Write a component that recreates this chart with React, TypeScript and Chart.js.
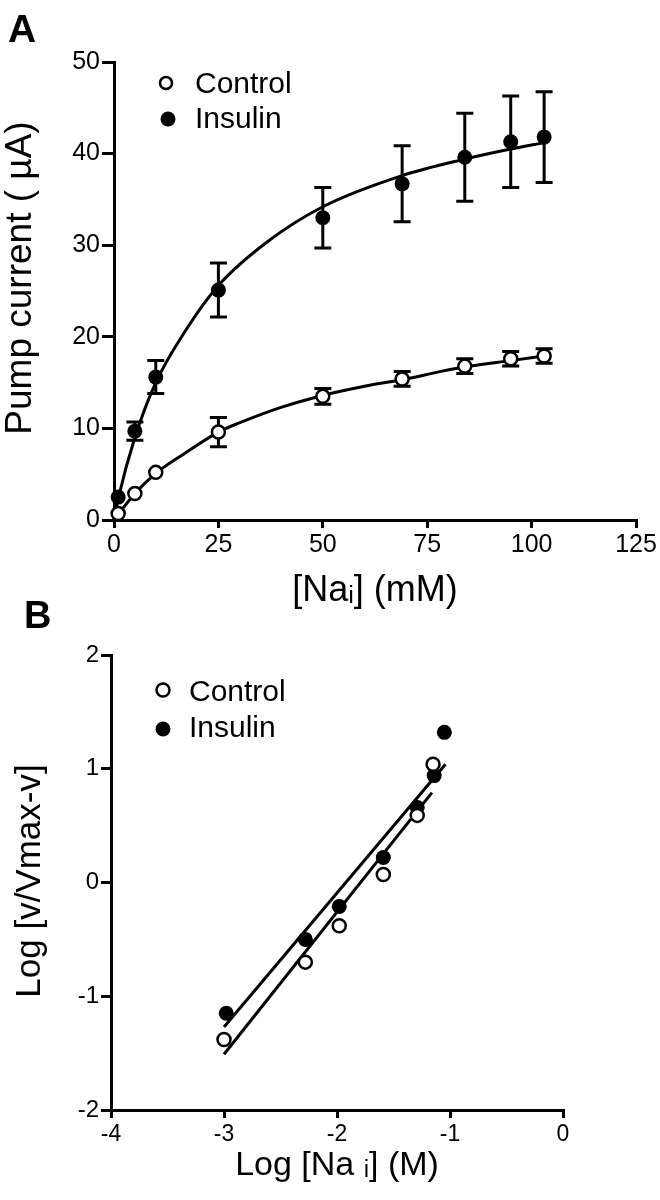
import React, { useEffect, useRef } from 'react';
import { Chart, registerables } from 'chart.js';

Chart.register(...registerables);

const FONT = '"Liberation Sans", Arial, Helvetica, sans-serif';

// ---------- Panel A data ----------
const naConc = [1, 5, 10, 25, 50, 69, 84, 95, 103];
const controlCurrent = [0.7, 2.9, 5.2, 9.6, 13.5, 15.4, 16.8, 17.6, 17.9];
const controlSem = [0, 0, 0, 1.6, 0.85, 0.8, 0.8, 0.8, 0.8];
const insulinCurrent = [2.5, 9.7, 15.6, 25.1, 33.0, 36.7, 39.6, 41.3, 41.8];
const insulinSem = [0, 1.0, 1.8, 2.95, 3.3, 4.15, 4.8, 5.0, 4.95];

const insulinFitX = [0, 1, 5, 10, 16.6, 25, 36.5, 50, 69, 84, 95, 103];
const insulinFitY = [0, 2.3, 9.0, 15.0, 20.3, 25.6, 30.3, 34.2, 37.6, 39.4, 40.5, 41.2];
const controlFitX = [0, 1, 5, 10, 17, 25, 30, 40, 50, 60, 70, 78, 84, 95, 103];
const controlFitY = [0, 0.6, 2.9, 5.1, 7.3, 9.6, 10.6, 12.3, 13.6, 14.6, 15.4, 16.2, 16.7, 17.4, 17.9];

// ---------- Panel B data ----------
const logNaControl = [-3.0, -2.28, -1.98, -1.59, -1.29, -1.15];
const logRatioControl = [-1.38, -0.7, -0.38, 0.07, 0.59, 1.04];
const logNaInsulin = [-2.98, -2.28, -1.98, -1.59, -1.29, -1.14, -1.05];
const logRatioInsulin = [-1.15, -0.5, -0.21, 0.22, 0.66, 0.94, 1.32];
const insulinLineX = [-3.0, -1.04];
const insulinLineY = [-1.27, 1.04];
const controlLineX = [-3.0, -1.16];
const controlLineY = [-1.51, 0.79];

const legendLabels = ['Control', 'Insulin'];
const titleA = { x: '[Naᵢ] (mM)', y: 'Pump current ( µA)' };
const titleB = { x: 'Log [Na ᵢ] (M)', y: 'Log [v/Vmax-v]' };

const zip = (xs: number[], ys: number[]) => xs.map((x, i) => ({ x, y: ys[i] }));

const errorBarPlugin = {
  id: 'errorBars',
  beforeDatasetsDraw(chart: any) {
    const { ctx, scales } = chart;
    const x = scales.x;
    const y = scales.y;
    chart.data.datasets.forEach((ds: any) => {
      const err = ds.errors;
      if (!err) return;
      ctx.save();
      ctx.strokeStyle = '#000';
      ctx.lineWidth = 3;
      ds.data.forEach((p: any, j: number) => {
        const e = err[j];
        if (!e) return;
        const px = x.getPixelForValue(p.x);
        const yt = y.getPixelForValue(p.y + e);
        const yb = y.getPixelForValue(p.y - e);
        ctx.beginPath();
        ctx.moveTo(px, yt);
        ctx.lineTo(px, yb);
        ctx.moveTo(px - 8.5, yt);
        ctx.lineTo(px + 8.5, yt);
        ctx.moveTo(px - 8.5, yb);
        ctx.lineTo(px + 8.5, yb);
        ctx.stroke();
      });
      ctx.restore();
    });
  },
};

const decorPlugin = {
  id: 'decor',
  afterDraw(chart: any, _args: any, opts: any) {
    const ctx = chart.ctx;
    ctx.save();
    ctx.textAlign = 'left';
    ctx.textBaseline = 'alphabetic';
    ctx.fillStyle = '#000';
    if (opts.letter) {
      ctx.font = `bold ${opts.letter.size}px ${FONT}`;
      ctx.fillText(opts.letter.text, opts.letter.x, opts.letter.y);
    }
    (opts.items || []).forEach((it: any) => {
      ctx.beginPath();
      ctx.arc(it.cx, it.cy, it.r, 0, Math.PI * 2);
      if (it.filled) {
        ctx.fillStyle = '#000';
        ctx.fill();
      } else {
        ctx.fillStyle = '#fff';
        ctx.fill();
        ctx.lineWidth = 2.5;
        ctx.strokeStyle = '#000';
        ctx.stroke();
      }
      ctx.fillStyle = '#000';
      ctx.font = `${opts.fontSize}px ${FONT}`;
      ctx.fillText(it.label, it.tx, it.ty);
    });
    if (opts.yTitle) {
      const t = opts.yTitle;
      ctx.save();
      ctx.translate(t.cx, t.cy);
      ctx.rotate(-Math.PI / 2);
      ctx.textAlign = 'center';
      ctx.textBaseline = 'middle';
      ctx.font = `${t.size}px ${FONT}`;
      ctx.fillStyle = '#000';
      ctx.fillText(t.text, 0, 0);
      ctx.restore();
    }
    ctx.restore();
  },
};

const axisCommon = (tickLength: number, tickSize: number, pad: number) => ({
  type: 'linear' as const,
  grid: {
    display: true,
    drawOnChartArea: false,
    drawTicks: true,
    tickLength,
    color: '#000',
    lineWidth: 3,
  },
  border: { display: true, color: '#000', width: 3 },
  ticks: {
    color: '#000',
    font: { family: FONT, size: tickSize },
    padding: pad,
    maxRotation: 0,
    autoSkip: false,
  },
});

const pointsDataset = (label: string, data: any[], filled: boolean, order: number, errors?: number[]) =>
  ({
    label,
    data,
    errors,
    showLine: false,
    pointRadius: filled ? 7.5 : 6.5,
    pointBorderWidth: filled ? 0 : 2.5,
    pointBackgroundColor: filled ? '#000' : '#fff',
    pointBorderColor: '#000',
    order,
    clip: false,
  } as any);

const fitDataset = (label: string, data: any[], order: number, smooth: boolean) =>
  ({
    label,
    data,
    borderColor: '#000',
    borderWidth: 3,
    pointRadius: 0,
    cubicInterpolationMode: smooth ? 'monotone' : 'default',
    fill: false,
    order,
    clip: false,
  } as any);

function makeChartA(canvas: HTMLCanvasElement) {
  const xa = axisCommon(8, 25, 2);
  const ya = axisCommon(12, 25, 2);
  return new Chart(canvas, {
    type: 'line',
    data: {
      datasets: [
        pointsDataset(legendLabels[0], zip(naConc, controlCurrent), false, 0, controlSem),
        pointsDataset(legendLabels[1], zip(naConc, insulinCurrent), true, 1, insulinSem),
        fitDataset('Insulin fit', zip(insulinFitX, insulinFitY), 5, true),
        fitDataset('Control fit', zip(controlFitX, controlFitY), 6, true),
      ],
    },
    options: {
      responsive: false,
      animation: false,
      layout: { padding: { top: 62, right: 24, left: 0, bottom: 0 } },
      plugins: {
        legend: { display: false },
        tooltip: { enabled: false },
        decor: {
          letter: { text: 'A', x: 8, y: 42, size: 39 },
          fontSize: 30,
          items: [
            { label: legendLabels[0], filled: false, cx: 166, cy: 83, r: 6, tx: 195, ty: 93 },
            { label: legendLabels[1], filled: true, cx: 168, cy: 119, r: 7.5, tx: 195, ty: 128 },
          ],
          yTitle: { text: titleA.y, cx: 21, cy: 278, size: 37 },
        },
      } as any,
      scales: {
        x: {
          ...xa,
          min: 0,
          max: 125,
          position: 'bottom',
          ticks: { ...xa.ticks, stepSize: 25 },
          title: {
            display: true,
            text: titleA.x,
            color: '#000',
            font: { family: FONT, size: 36 },
            padding: { top: 0, bottom: 7 },
          },
          afterFit: (s: any) => {
            s.height = 100;
          },
        } as any,
        y: {
          ...ya,
          min: 0,
          max: 50,
          position: 'left',
          ticks: { ...ya.ticks, stepSize: 10 },
          title: { display: false },
          afterFit: (s: any) => {
            s.width = 114;
          },
        } as any,
      },
    },
    plugins: [errorBarPlugin, decorPlugin],
  } as any);
}

function makeChartB(canvas: HTMLCanvasElement) {
  const xa = axisCommon(8, 23, 3);
  const ya = axisCommon(10, 24, 2);
  return new Chart(canvas, {
    type: 'line',
    data: {
      datasets: [
        pointsDataset(legendLabels[0], zip(logNaControl, logRatioControl), false, 0),
        pointsDataset(legendLabels[1], zip(logNaInsulin, logRatioInsulin), true, 1),
        fitDataset('Insulin fit', zip(insulinLineX, insulinLineY), 5, false),
        fitDataset('Control fit', zip(controlLineX, controlLineY), 6, false),
      ],
    },
    options: {
      responsive: false,
      animation: false,
      layout: { padding: { top: 55, right: 97, left: 0, bottom: 0 } },
      plugins: {
        legend: { display: false },
        tooltip: { enabled: false },
        decor: {
          letter: { text: 'B', x: 24, y: 28, size: 38 },
          fontSize: 30,
          items: [
            { label: legendLabels[0], filled: false, cx: 163, cy: 90, r: 6.5, tx: 189, ty: 101 },
            { label: legendLabels[1], filled: true, cx: 163, cy: 129, r: 7.5, tx: 189, ty: 137 },
          ],
          yTitle: { text: titleB.y, cx: 30, cy: 281, size: 35 },
        },
      } as any,
      scales: {
        x: {
          ...xa,
          min: -4,
          max: 0,
          position: 'bottom',
          ticks: { ...xa.ticks, stepSize: 1 },
          title: {
            display: true,
            text: titleB.x,
            color: '#000',
            font: { family: FONT, size: 34 },
            padding: { top: 0, bottom: 14 },
          },
          afterFit: (s: any) => {
            s.height = 90;
          },
        } as any,
        y: {
          ...ya,
          min: -2,
          max: 2,
          position: 'left',
          ticks: { ...ya.ticks, stepSize: 1 },
          title: { display: false },
          afterFit: (s: any) => {
            s.width = 111;
          },
        } as any,
      },
    },
    plugins: [decorPlugin],
  } as any);
}

export default function App() {
  const refA = useRef<HTMLCanvasElement | null>(null);
  const refB = useRef<HTMLCanvasElement | null>(null);

  useEffect(() => {
    const a = refA.current ? makeChartA(refA.current) : null;
    const b = refB.current ? makeChartB(refB.current) : null;
    return () => {
      a?.destroy();
      b?.destroy();
    };
  }, []);

  return (
    <div style={{ position: 'absolute', left: 0, top: 0, width: 660, height: 1200, background: '#fff' }}>
      <canvas
        ref={refA}
        width={660}
        height={620}
        style={{ position: 'absolute', left: 0, top: 0, width: 660, height: 620 }}
      />
      <canvas
        ref={refB}
        width={660}
        height={600}
        style={{ position: 'absolute', left: 0, top: 600, width: 660, height: 600 }}
      />
    </div>
  );
}
